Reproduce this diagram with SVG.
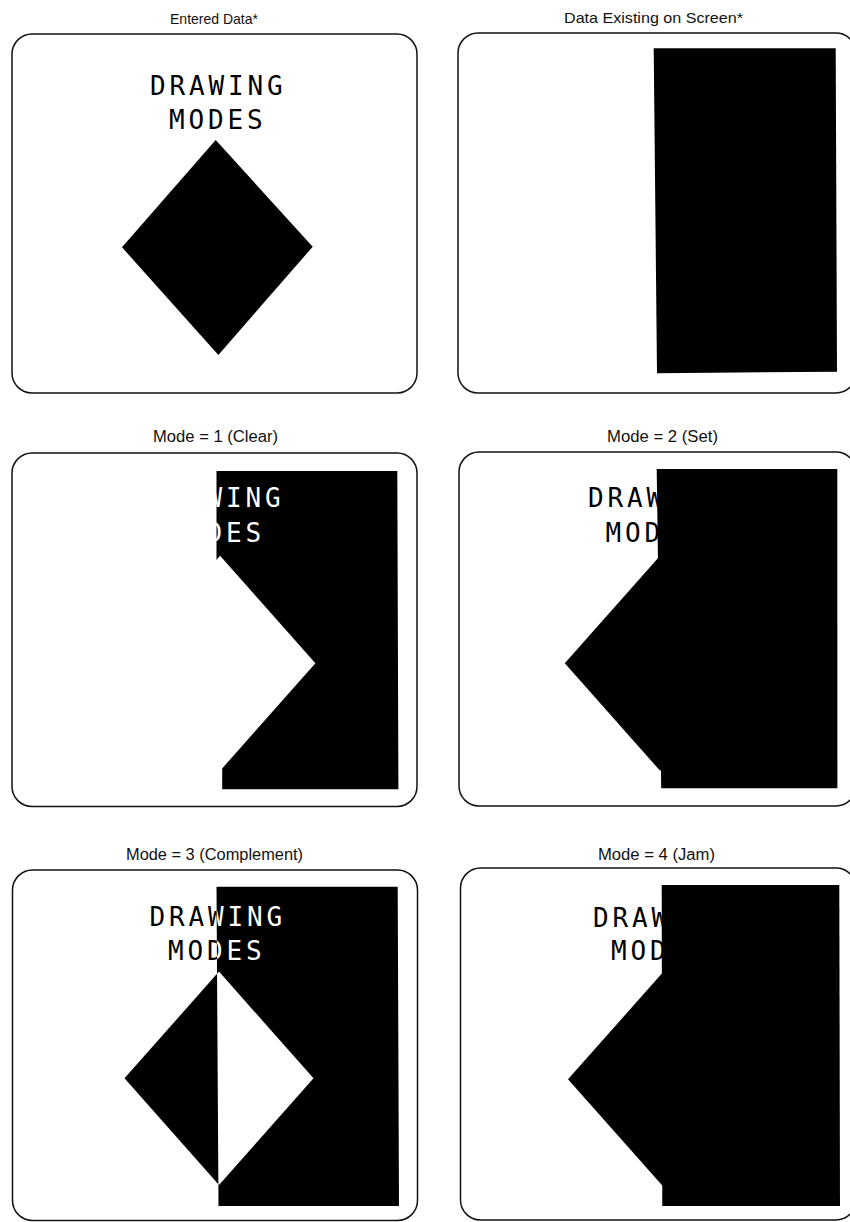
<svg xmlns="http://www.w3.org/2000/svg" width="850" height="1222" viewBox="0 0 850 1222">
<style>
.frame{fill:none;stroke:#111;stroke-width:1.5}
.title{font-family:"Liberation Sans",Arial,sans-serif;font-size:15px;fill:#111;text-anchor:middle}
.mode{font-family:"Liberation Sans",Arial,sans-serif;font-size:16px;fill:#111;text-anchor:middle}
.plot{font-family:"DejaVu Sans Mono",monospace;font-size:26px;letter-spacing:3.85px}
.blk{fill:#000}
.wht{fill:#fff}
</style>
<defs>
<clipPath id="c5"><polygon points="216.5,886.7 397.7,886.7 399,1206 218.5,1206"/></clipPath>
</defs>
<rect x="0" y="0" width="850" height="1222" fill="#fff"/>

<g id="panel-entered">
<text class="title" x="214" y="24" textLength="88" lengthAdjust="spacingAndGlyphs">Entered Data*</text>
<rect class="frame" x="12" y="34" width="405" height="359" rx="20"/>
<text class="plot blk" x="150" y="94.5">DRAWING</text>
<text class="plot blk" x="169" y="128.5">MODES</text>
<polygon class="blk" points="215.7,140 312.7,246.7 218.4,355 122,247.3"/>
</g>

<g id="panel-screen">
<text class="title" x="653.5" y="23" textLength="179" lengthAdjust="spacingAndGlyphs">Data Existing on Screen*</text>
<rect class="frame" x="458" y="33" width="398" height="360" rx="20"/>
<polygon class="blk" points="653.7,48.3 835.7,48.3 837,371.7 657,373.3"/>
</g>

<g id="panel-clear">
<text class="mode" x="215.5" y="442" textLength="125" lengthAdjust="spacingAndGlyphs">Mode = 1 (Clear)</text>
<rect class="frame" x="12" y="453" width="405" height="353.5" rx="20"/>
<polygon class="blk" points="216.5,471 397.3,471 398.4,789.3 222.2,789.3 222.2,700 216.5,650"/>
<polygon class="wht" points="220.1,555.8 315.4,663.3 220.1,770.8 124.8,663.3"/>
<text class="plot wht" x="148" y="507">DRAWING</text>
<text class="plot wht" x="167.5" y="541.5">MODES</text>
</g>

<g id="panel-set">
<text class="mode" x="662.5" y="442" textLength="111" lengthAdjust="spacingAndGlyphs">Mode = 2 (Set)</text>
<rect class="frame" x="459" y="452" width="397" height="354" rx="20"/>
<polygon class="blk" points="656.7,469 837.3,469 837.4,788.3 661.2,788.3"/>
<polygon class="blk" points="660.1,555.8 755.4,663.3 660.1,770.8 564.8,663.3"/>
<text class="plot blk" x="588" y="507">DRAWING</text>
<text class="plot blk" x="605.5" y="542">MODES</text>
</g>

<g id="panel-complement">
<text class="mode" x="214.5" y="860" textLength="177" lengthAdjust="spacingAndGlyphs">Mode = 3 (Complement)</text>
<rect class="frame" x="12.5" y="870" width="405" height="350.5" rx="20"/>
<polygon class="blk" points="219,971.6 313.5,1078.3 219,1185 124.5,1078.3"/>
<text class="plot blk" x="149.5" y="926">DRAWING</text>
<text class="plot blk" x="168" y="960">MODES</text>
<polygon class="blk" points="216.5,886.7 397.7,886.7 399,1206 218.5,1206"/>
<g clip-path="url(#c5)">
<polygon class="wht" points="219,971.6 313.5,1078.3 219,1185 124.5,1078.3"/>
<text class="plot wht" x="149.5" y="926">DRAWING</text>
<text class="plot wht" x="168" y="960">MODES</text>
</g>
</g>

<g id="panel-jam">
<text class="mode" x="656.5" y="860" textLength="117" lengthAdjust="spacingAndGlyphs">Mode = 4 (Jam)</text>
<rect class="frame" x="460.5" y="868" width="395.5" height="352" rx="20"/>
<polygon class="blk" points="661.7,885 839.3,885 840,1206 662.3,1206"/>
<polygon class="blk" points="662.5,972.8 757,1079.3 662.5,1185.8 568,1079.3"/>
<text class="plot blk" x="593" y="926.5">DRAWING</text>
<text class="plot blk" x="611" y="960">MODES</text>
</g>

<g id="connectors"/>
</svg>
